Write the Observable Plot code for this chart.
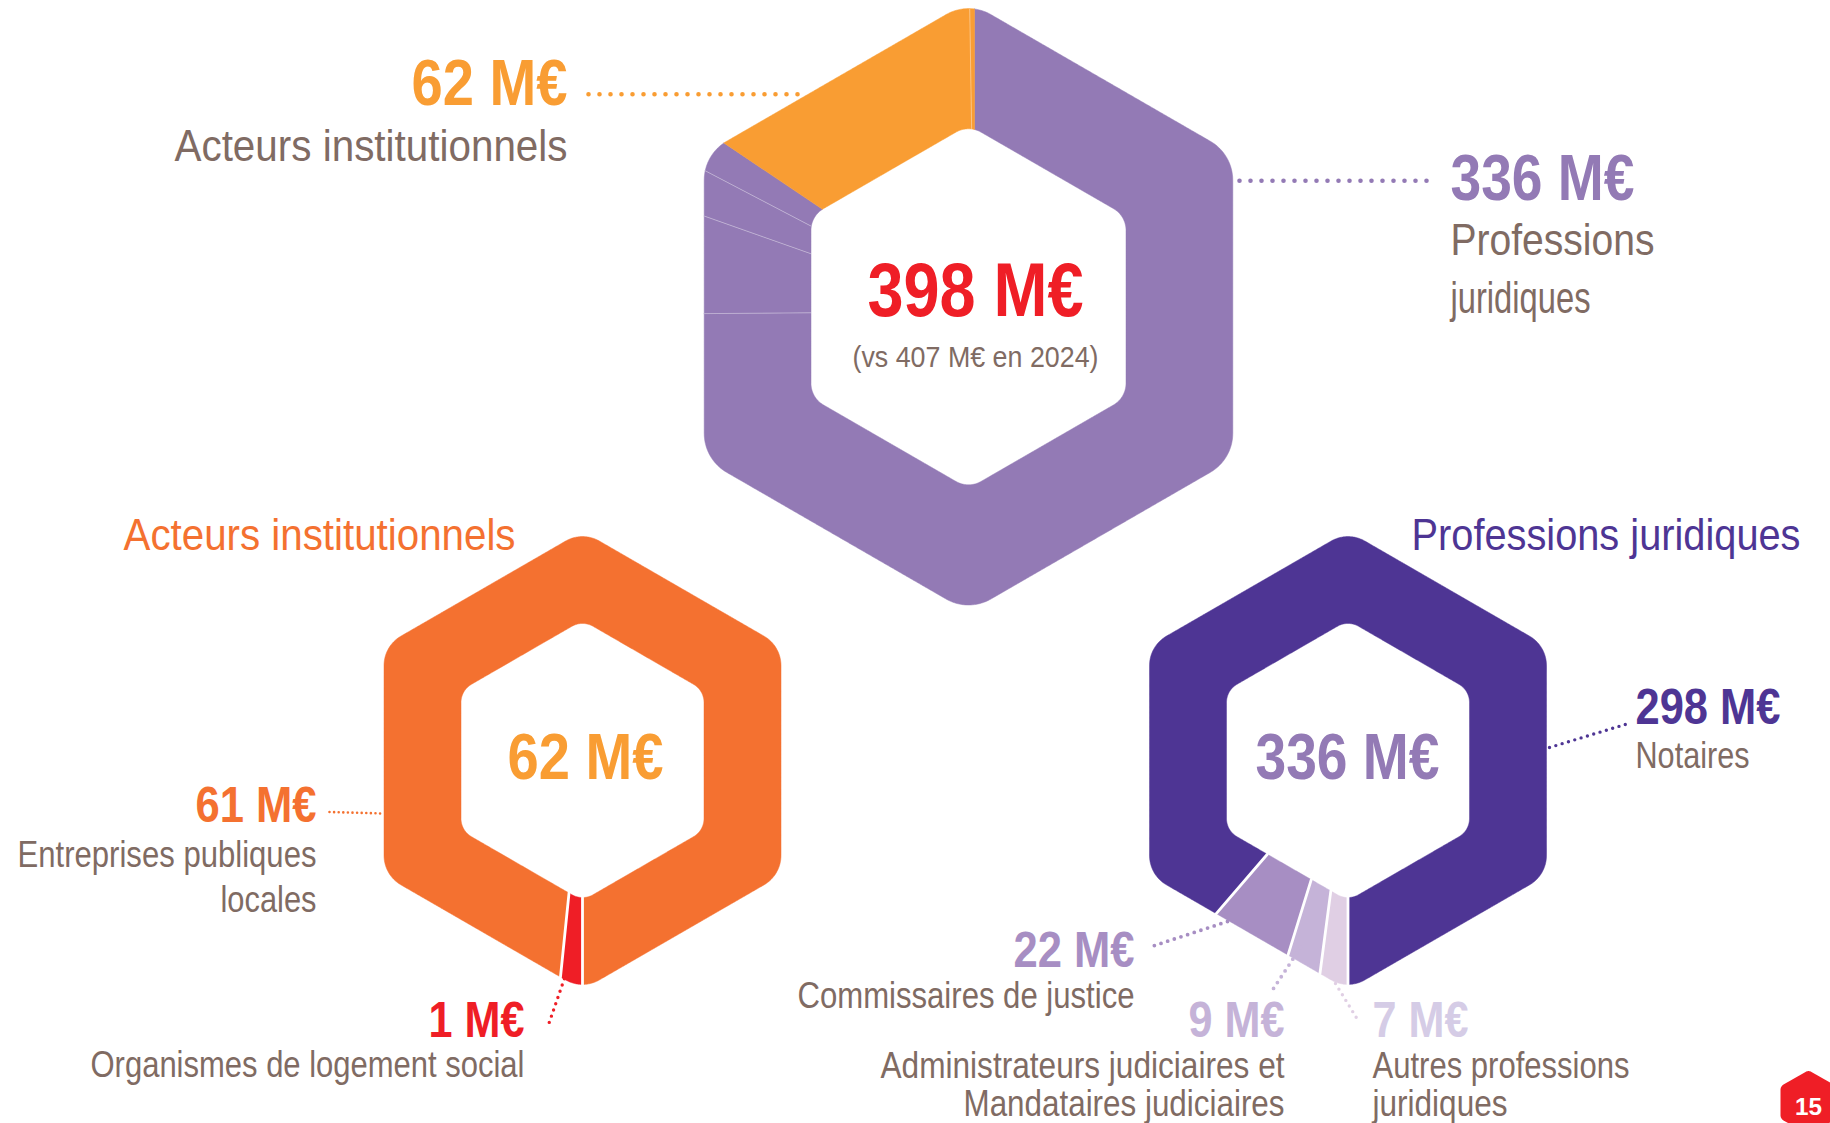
<!DOCTYPE html>
<html><head><meta charset="utf-8">
<style>html,body{margin:0;padding:0;background:#fff;overflow:hidden}svg{display:block}</style>
<script src="https://cdn.jsdelivr.net/npm/d3@7"></script>
<script src="https://cdn.jsdelivr.net/npm/@observablehq/plot@0.6"></script>
</head><body>
<script>
// ---- data ----
const totalCategories = ["Notaires","Commissaires de justice","Administrateurs judiciaires et Mandataires judiciaires","Autres professions juridiques","Entreprises publiques locales","Organismes de logement social"];
const totalValues = [298,22,9,7,61,1];
const instCategories = ["Organismes de logement social","Entreprises publiques locales"];
const instValues = [1,61];
const juriCategories = ["Autres professions juridiques","Administrateurs judiciaires et Mandataires judiciaires","Commissaires de justice","Notaires"];
const juriValues = [7,9,22,298];

// ---- styles ----
const PURPLE="#937ab5", AMBER="#f99d33", RED="#ef1e26", ORANGE="#f47130", DEEP="#4e3594", BROWN="#806b63";
const C22="#a78ec3", C9="#c5b3d8", C7="#e0cfe4", L7="#d5cce6";
const totalColors=[PURPLE,PURPLE,PURPLE,PURPLE,AMBER,AMBER];
const instColors=[RED,ORANGE];
const juriColors=[C7,C9,C22,DEEP];

// ---- rounded hexagon geometry ----
function roundedHex(cx,cy,apothem,corner){
  const R=apothem/Math.cos(Math.PI/6), pts=[];
  for(let i=0;i<6;i++){
    const a=i*Math.PI/3;
    const ccx=cx+(R-corner/Math.cos(Math.PI/6))*Math.sin(a);
    const ccy=cy-(R-corner/Math.cos(Math.PI/6))*Math.cos(a);
    for(let k=0;k<=16;k++){
      const b=a-Math.PI/6+k/16*Math.PI/3;
      pts.push([ccx+corner*Math.sin(b),ccy-corner*Math.cos(b)]);
    }
  }
  return pts;
}
function hit(poly,px,py,ang){
  const dx=Math.sin(ang),dy=-Math.cos(ang);
  let best=null;
  for(let i=0;i<poly.length;i++){
    const [x1,y1]=poly[i],[x2,y2]=poly[(i+1)%poly.length];
    const ex=x2-x1,ey=y2-y1,den=dx*ey-dy*ex;
    if(Math.abs(den)<1e-9)continue;
    const t=((x1-px)*ey-(y1-py)*ex)/den,u=((x1-px)*dy-(y1-py)*dx)/den;
    if(t>=0&&u>=-1e-6&&u<=1+1e-6&&(best===null||t<best))best=t;
  }
  return [px+best*dx,py+best*dy];
}
function donut(id,vals,colors,g){
  const outer=roundedHex(g.cx,g.cy,g.ao,g.co),inner=roundedHex(g.cx,g.cy,g.ai,g.ci);
  const px=g.px??g.cx,py=g.py??g.cy,sum=d3.sum(vals),slices=[],seps=[];
  let a=g.start;
  vals.forEach((v,i)=>{
    const b=a+v/sum*2*Math.PI,n=Math.max(2,Math.ceil((b-a)/0.004)),ring=[];
    for(let k=0;k<=n;k++)ring.push(hit(outer,px,py,a+(b-a)*k/n));
    for(let k=n;k>=0;k--)ring.push(hit(inner,px,py,a+(b-a)*k/n));
    ring.forEach(([x,y])=>slices.push({x,y,key:id+i,color:colors[i]}));
    slices.push({...slices[slices.length-ring.length]});
    [hit(inner,px,py,a),hit(outer,px,py,a)].forEach(([x,y])=>seps.push({x,y,key:id+"s"+i}));
    a=b;
  });
  return {slices,seps};
}
const topD=donut("t",totalValues,totalColors,{cx:968,cy:306.3,ao:264.3,co:45,ai:157.5,ci:25,px:974,py:311,start:0});
const leftD=donut("l",instValues,instColors,{cx:582,cy:760,ao:198.5,co:34,ai:121.5,ci:21,start:Math.PI});
const rightD=donut("r",juriValues,juriColors,{cx:1347.5,cy:760,ao:198.5,co:34,ai:121.5,ci:21,start:Math.PI});
const badge=roundedHex(1808,1102,28,6).map(([x,y])=>({x,y}));
badge.push(badge[0]);
const hair=topD.seps.filter(d=>["ts1","ts2","ts3","ts5"].includes(d.key));

// ---- layout ----
const leaders=[
 {k:"a",c:AMBER,w:4.6,g:"0 11",p:[[588,93.7],[807,93.7]]},
 {k:"b",c:PURPLE,w:4.6,g:"0 11",p:[[1239,180.3],[1430,180.3]]},
 {k:"c",c:ORANGE,w:2.6,g:"0 4.6",p:[[329,811.5],[382,813]]},
 {k:"d",c:RED,w:3.4,g:"0 6.6",p:[[566,972],[547,1027]]},
 {k:"e",c:DEEP,w:3.4,g:"0 6.6",p:[[1549,747],[1628,723]]},
 {k:"f",c:C22,w:3.8,g:"0 7",p:[[1227,921],[1148,947]]},
 {k:"g",c:C9,w:3.8,g:"0 7",p:[[1300,947],[1273,988]]},
 {k:"h",c:C7,w:3.4,g:"0 6.6",p:[[1335,983],[1357,1019]]}
];
const boldLabels=[
 {t:"62 M€",x:567,y:104,s:64,w:156,a:"end",c:AMBER},
 {t:"336 M€",x:1450,y:199,s:64,w:184,a:"start",c:PURPLE},
 {t:"398 M€",x:975,y:315,s:76,w:216,a:"middle",c:RED},
 {t:"62 M€",x:585,y:778,s:64,w:156,a:"middle",c:AMBER},
 {t:"336 M€",x:1347,y:778,s:64,w:184,a:"middle",c:PURPLE},
 {t:"61 M€",x:316,y:821,s:50,w:121,a:"end",c:ORANGE},
 {t:"1 M€",x:524,y:1036,s:50,w:96,a:"end",c:RED},
 {t:"298 M€",x:1635,y:723,s:50,w:145,a:"start",c:DEEP},
 {t:"22 M€",x:1134,y:966,s:50,w:121,a:"end",c:C22},
 {t:"9 M€",x:1284,y:1036,s:50,w:96,a:"end",c:C9},
 {t:"7 M€",x:1372,y:1036,s:50,w:96,a:"start",c:L7},
 {t:"15",x:1808,y:1114,s:24,w:27,a:"middle",c:"#fff"}
];
const textLabels=[
 {t:"Acteurs institutionnels",x:567,y:160,s:45,w:393,a:"end",c:BROWN},
 {t:"Professions",x:1450,y:254,s:45,w:204,a:"start",c:BROWN},
 {t:"juridiques",x:1450,y:312,s:45,w:140,a:"start",c:BROWN},
 {t:"(vs 407 M€ en 2024)",x:975,y:366,s:30,w:246,a:"middle",c:BROWN},
 {t:"Acteurs institutionnels",x:515,y:549,s:45,w:392,a:"end",c:ORANGE},
 {t:"Professions juridiques",x:1800,y:549,s:45,w:389,a:"end",c:DEEP},
 {t:"Entreprises publiques",x:316,y:866,s:37,w:299,a:"end",c:BROWN},
 {t:"locales",x:316,y:911,s:37,w:96,a:"end",c:BROWN},
 {t:"Organismes de logement social",x:524,y:1076,s:37,w:434,a:"end",c:BROWN},
 {t:"Notaires",x:1635,y:767,s:37,w:114,a:"start",c:BROWN},
 {t:"Commissaires de justice",x:1134,y:1007,s:37,w:337,a:"end",c:BROWN},
 {t:"Administrateurs judiciaires et",x:1284,y:1077,s:37,w:404,a:"end",c:BROWN},
 {t:"Mandataires judiciaires",x:1284,y:1115,s:36,w:321,a:"end",c:BROWN},
 {t:"Autres professions",x:1372,y:1077,s:37,w:257,a:"start",c:BROWN},
 {t:"juridiques",x:1372,y:1115,s:36,w:135,a:"start",c:BROWN}
];
const FONT="'Liberation Sans',sans-serif";
const anchors=["start","middle","end"];
const textMarks=(rows,weight)=>anchors.map(a=>Plot.text(rows.filter(d=>d.a===a),{
  x:"x",y:"y",text:"t",fontSize:"s",fill:"c",textAnchor:a,lineAnchor:"bottom",fontFamily:FONT,fontWeight:weight,
  render(index,scales,values,dims,ctx,next){
    const g=next(index,scales,values,dims,ctx);
    const rs=rows.filter(d=>d.a===a);
    g.querySelectorAll("text").forEach((el,i)=>{
      el.setAttribute("textLength",rs[index[i]].w);
      el.setAttribute("lengthAdjust","spacingAndGlyphs");
    });
    return g;
  }
}));
const fillMark=d=>Plot.line(d,{x:"x",y:"y",z:"key",fill:"color",stroke:"color",strokeWidth:.5,curve:"linear"});

const plot=Plot.plot({
  width:1830,height:1123,margin:0,
  x:{domain:[0,1830],range:[0,1830],axis:null},
  y:{domain:[0,1123],range:[0,1123],axis:null},
  style:{background:"#fff"},
  marks:[
    fillMark(topD.slices),
    Plot.line(hair,{x:"x",y:"y",z:"key",stroke:"#fff",strokeWidth:.8,strokeOpacity:.45}),
    fillMark(leftD.slices),
    fillMark(rightD.slices),
    Plot.line(leftD.seps,{x:"x",y:"y",z:"key",stroke:"#fff",strokeWidth:2.8}),
    Plot.line(rightD.seps,{x:"x",y:"y",z:"key",stroke:"#fff",strokeWidth:2.8}),
    Plot.line(badge,{x:"x",y:"y",fill:RED,stroke:null}),
    ...leaders.map(l=>Plot.line(l.p,{x:d=>d[0],y:d=>d[1],stroke:l.c,strokeWidth:l.w,strokeDasharray:l.g,strokeLinecap:"round"})),
    ...textMarks(boldLabels,700),
    ...textMarks(textLabels,400)
  ]
});
document.body.appendChild(plot);
</script>
</body></html>
